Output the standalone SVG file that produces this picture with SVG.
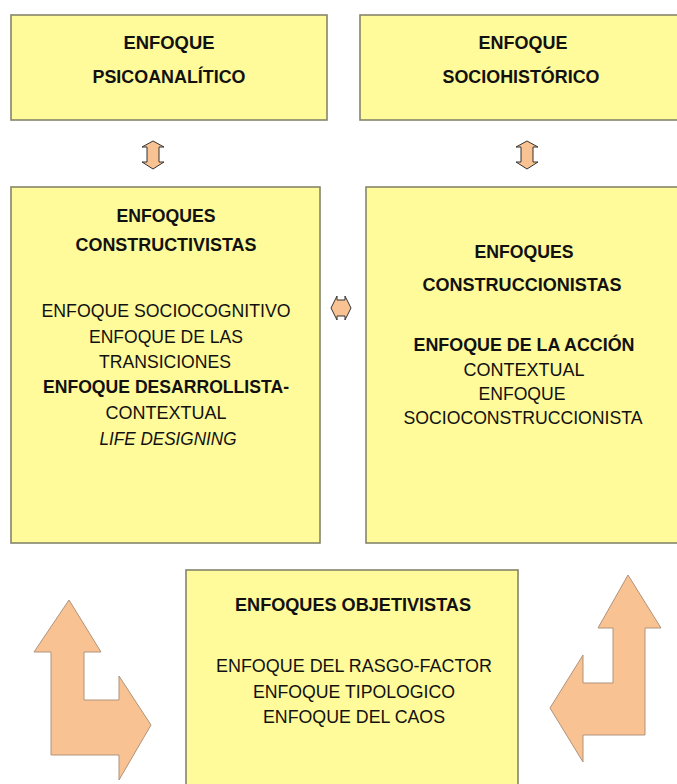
<svg xmlns="http://www.w3.org/2000/svg" width="677" height="784" viewBox="0 0 677 784">
<style>
.box{fill:#FFFA9A;stroke:#85856a;stroke-width:1.6}
.t{font-family:"Liberation Sans",Arial,sans-serif;font-size:18px;fill:#111;text-anchor:middle}
.b{font-weight:bold}
.i{font-style:italic}
.big{fill:#F9C292;stroke:#b0937a;stroke-width:1}
.sm{fill:#F9C292;stroke:#333;stroke-width:1}
</style>
<rect width="677" height="784" fill="#ffffff"/>
<g id="psicoanalitico">
<rect class="box" x="11" y="15" width="316" height="105"/>
<text class="t b" x="169" y="49" textLength="91" lengthAdjust="spacingAndGlyphs">ENFOQUE</text>
<text class="t b" x="169" y="83" textLength="153" lengthAdjust="spacingAndGlyphs">PSICOANALÍTICO</text>
</g>
<g id="sociohistorico">
<rect class="box" x="360" y="15" width="322" height="105"/>
<text class="t b" x="523" y="49" textLength="89" lengthAdjust="spacingAndGlyphs">ENFOQUE</text>
<text class="t b" x="521" y="83" textLength="157" lengthAdjust="spacingAndGlyphs">SOCIOHISTÓRICO</text>
</g>
<g id="constructivistas">
<rect class="box" x="11" y="187" width="309" height="356"/>
<text class="t b" x="166" y="222" textLength="99" lengthAdjust="spacingAndGlyphs">ENFOQUES</text>
<text class="t b" x="166" y="251" textLength="181" lengthAdjust="spacingAndGlyphs">CONSTRUCTIVISTAS</text>
<text class="t" x="166" y="317" textLength="249" lengthAdjust="spacingAndGlyphs">ENFOQUE SOCIOCOGNITIVO</text>
<text class="t" x="166" y="343" textLength="154" lengthAdjust="spacingAndGlyphs">ENFOQUE DE LAS</text>
<text class="t" x="165" y="368" textLength="132" lengthAdjust="spacingAndGlyphs">TRANSICIONES</text>
<text class="t b" x="166" y="393" textLength="246" lengthAdjust="spacingAndGlyphs">ENFOQUE DESARROLLISTA-</text>
<text class="t" x="166" y="419" textLength="121" lengthAdjust="spacingAndGlyphs">CONTEXTUAL</text>
<text class="t i" x="168" y="445" textLength="137" lengthAdjust="spacingAndGlyphs">LIFE DESIGNING</text>
</g>
<g id="construccionistas">
<rect class="box" x="366" y="187" width="316" height="356"/>
<text class="t b" x="524" y="258" textLength="99" lengthAdjust="spacingAndGlyphs">ENFOQUES</text>
<text class="t b" x="522" y="291" textLength="199" lengthAdjust="spacingAndGlyphs">CONSTRUCCIONISTAS</text>
<text class="t b" x="524" y="351" textLength="221" lengthAdjust="spacingAndGlyphs">ENFOQUE DE LA ACCIÓN</text>
<text class="t" x="524" y="376" textLength="121" lengthAdjust="spacingAndGlyphs">CONTEXTUAL</text>
<text class="t" x="522" y="400" textLength="87" lengthAdjust="spacingAndGlyphs">ENFOQUE</text>
<text class="t" x="523" y="424" textLength="239" lengthAdjust="spacingAndGlyphs">SOCIOCONSTRUCCIONISTA</text>
</g>
<g id="objetivistas">
<rect class="box" x="186" y="570" width="332" height="222"/>
<text class="t b" x="353" y="611" textLength="236" lengthAdjust="spacingAndGlyphs">ENFOQUES OBJETIVISTAS</text>
<text class="t" x="354" y="672" textLength="276" lengthAdjust="spacingAndGlyphs">ENFOQUE DEL RASGO-FACTOR</text>
<text class="t" x="354" y="698" textLength="202" lengthAdjust="spacingAndGlyphs">ENFOQUE TIPOLOGICO</text>
<text class="t" x="354" y="723" textLength="182" lengthAdjust="spacingAndGlyphs">ENFOQUE DEL CAOS</text>
</g>
<g id="connectors">
<polygon class="sm" points="153,141 164,147 159,147 159,162 164,162 153,169 142,162 147,162 147,147 142,147"/>
<polygon class="sm" points="527,141 538,147 533,147 533,162 538,162 527,169 516,162 521,162 521,147 516,147"/>
<polygon class="sm" points="331,308 337,296 337,300 345,300 345,296 351,308 345,320 345,316 337,316 337,320"/>
<polygon class="big" points="69,600 101,652 84,652 84,700 119,700 119,676 151,725 119,780 119,755 51,755 51,652 34,652"/>
<polygon class="big" points="628,575 661,628 645,628 645,735 583,735 583,762 550,708 583,655 583,683 613,683 613,628 598,628"/>
</g>
</svg>
